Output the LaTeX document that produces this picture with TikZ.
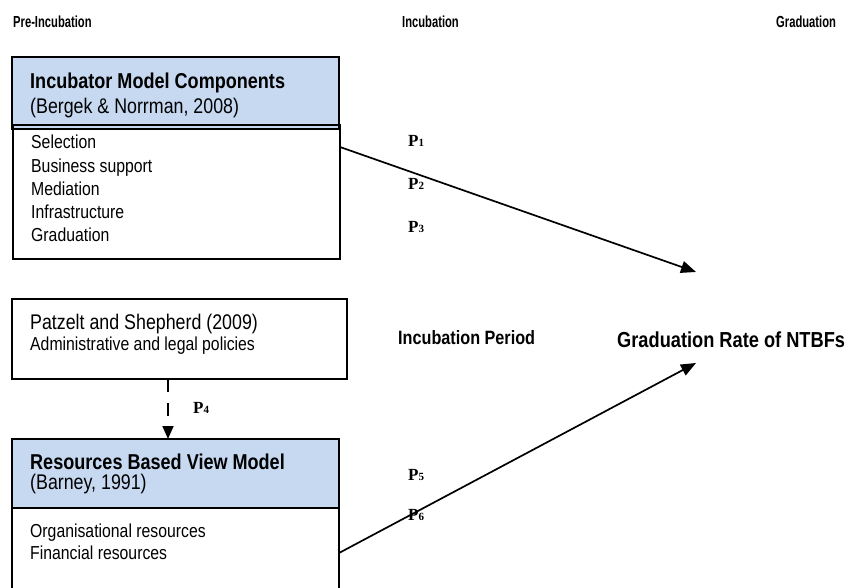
\documentclass[tikz,border=0pt]{standalone}
\usepackage{fontspec}
\setmainfont{Liberation Sans}
\newfontfamily\narrowfont{Liberation Sans}[FakeStretch=0.84]
\newfontfamily\phasefont{Liberation Sans}[FakeStretch=0.70]
\newfontfamily\propfont{Liberation Serif}
\usetikzlibrary{arrows.meta,calc}
\definecolor{hdrblue}{RGB}{198,217,241}

\begin{document}
\begin{tikzpicture}[x=1pt,y=-1pt,
  boxline/.style={draw=black, line width=1.3pt, inner sep=0pt, outer sep=0pt, anchor=north west},
  headbox/.style={boxline, fill=hdrblue},
  phase/.style={anchor=base west, inner sep=0pt, font=\phasefont\bfseries\fontsize{16}{18}\selectfont},
  titletxt/.style={anchor=base west, inner sep=0pt, font=\narrowfont\bfseries\fontsize{21.5}{24}\selectfont},
  citetxt/.style={anchor=base west, inner sep=0pt, font=\narrowfont\fontsize{21.2}{24}\selectfont},
  listtxt/.style={anchor=base west, inner sep=0pt, font=\narrowfont\fontsize{18.8}{23}\selectfont},
  outcome/.style={anchor=base west, inner sep=0pt, font=\narrowfont\bfseries\fontsize{21.7}{24}\selectfont},
  period/.style={anchor=base west, inner sep=0pt, font=\narrowfont\bfseries\fontsize{19.3}{22}\selectfont},
  prop/.style={anchor=base west, inner sep=0pt, font=\propfont\bfseries\fontsize{17}{18}\selectfont},
  link/.style={line width=1.7pt, -{Triangle[length=15pt,width=12pt]}},
  dashlink/.style={line width=1.7pt, dash pattern=on 13pt off 11pt, -{Triangle[length=13pt,width=11pt]}}
]
\useasboundingbox (0,0) rectangle (850,588);
\clip (0,0) rectangle (850,588);

% phase headings
\node[phase] (pre)  at (13,28)  {Pre-Incubation};
\node[phase] (inc)  at (402,28) {Incubation};
\node[phase] (grad) at (776,28) {Graduation};

% incubator model components
\node[headbox, minimum width=327, minimum height=72] (comphead) at (12,57) {};
\node[boxline, minimum width=327, minimum height=134] (compbody) at (13,125) {};
\node[titletxt] (comptitle) at (30,88.5) {Incubator Model Components};
\node[citetxt]  (compcite)  at (30,114) {(Bergek \& Norrman, 2008)};
\foreach \t [count=\i] in {Selection, Business support, Mediation, Infrastructure, Graduation}
  \node[listtxt] (comp\i) at (31,{149+23*(\i-1)}) {\t};

% policy box
\node[boxline, minimum width=335, minimum height=80] (policy) at (12,299) {};
\node[citetxt]  (policy1) at (30,329) {Patzelt and Shepherd (2009)};
\node[listtxt]  (policy2) at (30,350) {Administrative and legal policies};

% resources based view model
\node[headbox, minimum width=327, minimum height=69] (rbvhead) at (12,439) {};
\node[boxline, minimum width=327, minimum height=110] (rbvbody) at (12,508) {};
\node[titletxt] (rbvtitle) at (30,469) {Resources Based View Model};
\node[citetxt]  (rbvcite)  at (30,489) {(Barney, 1991)};
\node[listtxt]  (rbv1) at (30,537) {Organisational resources};
\node[listtxt]  (rbv2) at (30,559) {Financial resources};

% middle and outcome labels
\node[period]  (period)  at (398,344) {Incubation Period};
\node[outcome] (outrate) at (617,347) {Graduation Rate of NTBFs};

% propositions
\newcommand{\prp}[1]{P{\fontsize{11}{11}\selectfont #1}}
\node[prop] (p1) at (408,147) {\prp{1}};
\node[prop] (p2) at (408,189) {\prp{2}};
\node[prop] (p3) at (408,232) {\prp{3}};
\node[prop] (p4) at (193,413) {\prp{4}};
\node[prop] (p5) at (408,480) {\prp{5}};
\node[prop] (p6) at (408,520) {\prp{6}};

% connectors
\coordinate (tipA) at (696,272);
\coordinate (tipB) at (696,363);
\coordinate (dashstart) at ($(policy.south west)+(156,0)$);
\draw[link] ($(compbody.north east)+(0,22)$) -- (tipA);
\draw[link] ($(rbvbody.north east)+(0,45)$) -- (tipB);
\draw[dashlink] (dashstart) -- (dashstart |- rbvhead.north);
\end{tikzpicture}
\end{document}
